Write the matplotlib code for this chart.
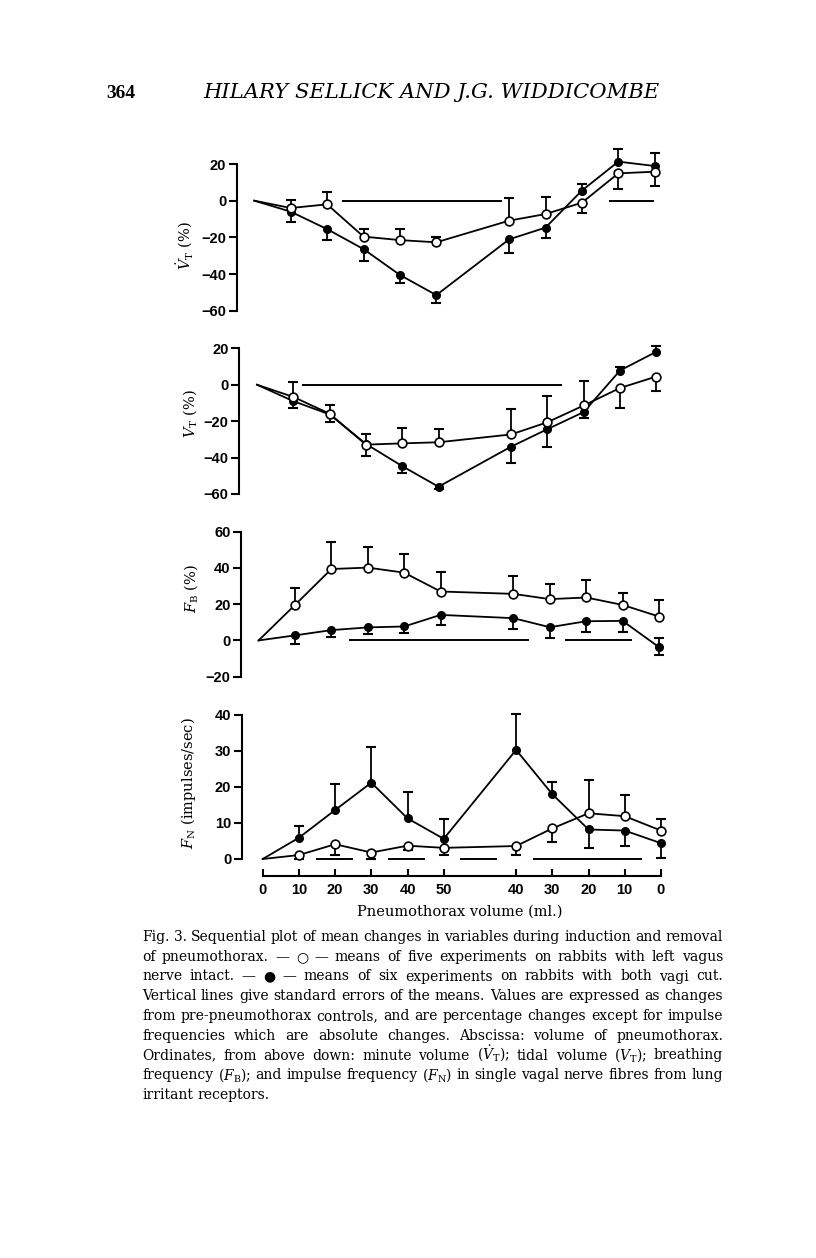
import matplotlib
matplotlib.use("Agg")
import numpy as np
import matplotlib.pyplot as plt

plt.rcParams["mathtext.fontset"] = "dejavuserif"

# x positions: 0..50 ml going in, a gap, then 40..0 ml coming out
pos = [0, 1, 2, 3, 4, 5, 7, 8, 9, 10, 11]
tick_labels = ["0", "10", "20", "30", "40", "50", "40", "30", "20", "10", "0"]

# minute volume (%)
vdot_open = [0, -4, -2, -19.6, -21.5, -22.7, -10.9, -7.3, -1.1, 14.9, 15.8]
vdot_open_up = [0, 4.4, 6.5, 4.1, 6.0, 2.7, 12.2, 9.1, 0, 0, 0]
vdot_open_dn = [0, 0, 0, 0, 0, 0, 0, 0, 5.4, 8.5, 7.6]
vdot_fill = [0, -6, -15.5, -26.4, -40.5, -51.5, -21.1, -14.7, 5.5, 21.3, 18.9]
vdot_fill_up = [0, 0, 0, 0, 0, 0, 0, 0, 3.5, 6.9, 6.9]
vdot_fill_dn = [0, 5.5, 6.0, 6.6, 4.5, 4.1, 7.6, 5.8, 0, 0, 0]
vdot_sig = [(2.40, 6.80), (9.74, 10.97)]

# tidal volume (%)
vt_open = [0, -6.7, -15.9, -32.9, -32.2, -31.6, -27.3, -20.6, -11.4, -1.8, 4.5]
vt_open_up = [0, 8.0, 4.7, 5.9, 8.3, 7.2, 13.7, 14.3, 13.2, 0, 0]
vt_open_dn = [0, 0, 0, 0, 0, 0, 0, 0, 0, 11.2, 7.8]
vt_fill = [0, -9, -16.3, -32.5, -44.7, -56, -34, -24.4, -15, 7.8, 18.1]
vt_fill_up = [0, 0, 0, 0, 0, 0, 0, 0, 0, 2.2, 3.2]
vt_fill_dn = [0, 4.0, 4.0, 6.9, 3.8, 1.5, 9.0, 9.6, 3.4, 0, 0]
vt_sig = [(1.23, 8.40)]

# breathing frequency (%)
fb_open = [0, 19.6, 39.4, 40.2, 37.4, 27, 25.7, 22.8, 23.7, 19.6, 13.2]
fb_open_up = [0, 9.6, 15.1, 11.5, 10.5, 11.0, 9.9, 8.4, 9.7, 6.8, 9.2]
fb_open_dn = [0] * 11
fb_fill = [0, 2.8, 5.7, 7.2, 7.7, 14.1, 12.3, 7.3, 10.6, 10.8, -3.7]
fb_fill_up = [0, 0, 0, 0, 0, 0, 0, 0, 0, 0, 5.0]
fb_fill_dn = [0, 4.6, 4.0, 3.5, 3.7, 5.5, 6.1, 6.0, 6.2, 6.2, 4.2]
fb_sig = [(2.49, 7.43), (8.42, 10.25)]

# impulse frequency (impulses/sec)
fn_open = [0, 1.1, 4.1, 1.8, 3.7, 3.1, 3.6, 8.5, 12.7, 11.9, 7.9]
fn_open_up = [0, 0, 0, 0, 0, 0, 0, 0, 9.2, 5.9, 3.1]
fn_open_dn = [0, 1.1, 3.0, 1.8, 1.2, 2.0, 2.5, 3.9, 0, 0, 0]
fn_fill = [0, 5.9, 13.6, 21.2, 11.3, 5.6, 30.3, 18, 8.2, 7.9, 4.4]
fn_fill_up = [0, 3.3, 7.2, 9.8, 7.2, 5.4, 10.0, 3.4, 0, 0, 0]
fn_fill_dn = [0, 0, 0, 0, 0, 0, 0, 0, 5.1, 4.2, 4.0]
fn_sig = [(1.47, 2.50), (3.47, 4.48), (5.45, 6.46), (7.46, 10.49)]

W, H = 816, 1258
fig = plt.figure(figsize=(W / 100, H / 100), dpi=100)
fig.patch.set_facecolor("white")

def fx(px):
    return px / W

def fy(py):
    return 1 - py / H

# layout in page pixels: spine x, x of first point, px per step,
# (value, px) for top and bottom of y spine, ylim
panels = [
    dict(spine=236.7, x0=254.3, dx=36.4, top=(20, 164), bot=(-60, 310.7), ylim=(-63, 30),
         ticks=[20, 0, -20, -40, -60], label=r"$\dot{V}_{\mathrm{T}}$ (%)", lab=(185, 246),
         data=(vdot_open, vdot_open_up, vdot_open_dn, vdot_fill, vdot_fill_up, vdot_fill_dn, vdot_sig)),
    dict(spine=239.0, x0=257.0, dx=36.3, top=(20, 348.3), bot=(-60, 494), ylim=(-62, 26),
         ticks=[20, 0, -20, -40, -60], label=r"$V_{\mathrm{T}}$ (%)", lab=(190, 414),
         data=(vt_open, vt_open_up, vt_open_dn, vt_fill, vt_fill_up, vt_fill_dn, vt_sig)),
    dict(spine=241.0, x0=258.6, dx=36.4, top=(60, 531.7), bot=(-20, 676.7), ylim=(-22, 62),
         ticks=[60, 40, 20, 0, -20], label=r"$F_{\mathrm{B}}$ (%)", lab=(191, 588),
         data=(fb_open, fb_open_up, fb_open_dn, fb_fill, fb_fill_up, fb_fill_dn, fb_sig)),
    dict(spine=241.7, x0=262.7, dx=36.2, top=(40, 715), bot=(0, 859), ylim=(-4.64, 42),
         ticks=[40, 30, 20, 10, 0], label=r"$F_{\mathrm{N}}$ (impulses/sec)", lab=(189, 783),
         data=(fn_open, fn_open_up, fn_open_dn, fn_fill, fn_fill_up, fn_fill_dn, fn_sig)),
]

tick_font = dict(family="Liberation Sans", weight="bold", size=10.5)

for i, p in enumerate(panels):
    (tv, tp), (bv, bp) = p["top"], p["bot"]
    sy = (bp - tp) / (tv - bv)
    y_top = tp - (p["ylim"][1] - tv) * sy
    y_bot = bp + (bv - p["ylim"][0]) * sy
    xl = -(p["x0"] - p["spine"]) / p["dx"]
    xr = 11.6
    ax = fig.add_axes([fx(p["spine"]), fy(y_bot), (xr - xl) * p["dx"] / W, (y_bot - y_top) / H])
    ax.set_xlim(xl, xr)
    ax.set_ylim(*p["ylim"])
    ax.patch.set_alpha(0)
    for s in ["top", "right"]:
        ax.spines[s].set_visible(False)
    ax.spines["left"].set_bounds(bv, tv)
    ax.spines["left"].set_linewidth(1.5)
    ax.set_yticks(p["ticks"])
    ax.set_yticklabels([str(t).replace("-", "\u2212") for t in p["ticks"]], **tick_font)
    ax.tick_params(axis="y", direction="out", length=6, width=1.5, pad=1.5)

    if i < 3:
        ax.spines["bottom"].set_visible(False)
        ax.set_xticks([])
    else:
        ax.spines["bottom"].set_bounds(0, 11)
        ax.spines["bottom"].set_linewidth(1.5)
        ax.set_xticks(pos)
        ax.set_xticklabels(tick_labels, **tick_font)
        ax.tick_params(axis="x", direction="in", length=5, width=1.5, pad=5)

    o, o_up, o_dn, f, f_up, f_dn, sig = p["data"]
    o, o_up, o_dn = np.array(o), np.array(o_up), np.array(o_dn)
    f, f_up, f_dn = np.array(f), np.array(f_up), np.array(f_dn)
    x = np.array(pos)

    # significance bars
    for a, b in sig:
        ax.plot([a, b], [0, 0], color="black", lw=1.4, solid_capstyle="butt", zorder=1)

    # standard error bars (one sided, cap at the tip only)
    for m, up, dn in [(o, o_up, o_dn), (f, f_up, f_dn)]:
        for e in [up, -dn]:
            k = e != 0
            ax.vlines(x[k], m[k], m[k] + e[k], color="black", lw=1.3, zorder=1.5)
            ax.plot(x[k], m[k] + e[k], ls="none", marker="_", ms=7, mew=1.5, color="black", zorder=1.5)

    ax.plot(x, o, color="black", lw=1.3, zorder=2)
    ax.plot(x, f, color="black", lw=1.3, zorder=2)
    ax.plot(x[1:], f[1:], ls="none", marker="o", ms=5.5, mfc="black", mec="black", zorder=3)
    ax.plot(x[1:], o[1:], ls="none", marker="o", ms=6.3, mfc="white", mec="black", mew=1.2, zorder=4)

    fig.text(fx(p["lab"][0]), fy(p["lab"][1]), p["label"], rotation=90, ha="center", va="center",
             family="DejaVu Serif", size=10.5)

fig.text(fx(460), fy(912), "Pneumothorax volume (ml.)", ha="center", va="center",
         family="DejaVu Serif", size=10.5)

# running head
fig.canvas.draw()
r = fig.canvas.get_renderer()

def fit(t, width):
    w = t.get_window_extent(r).width
    t.set_fontsize(t.get_fontsize() * width / w)

t = fig.text(fx(106), fy(93), "364", ha="left", va="center", family="Liberation Serif", weight="bold", size=13)
fit(t, 29)
t = fig.text(fx(203), fy(93), "HILARY SELLICK AND J.G. WIDDICOMBE", ha="left", va="center",
             family="DejaVu Serif", style="italic", size=13)
fit(t, 454)

# caption, justified between two page margins
caption = [
    "Fig. 3. Sequential plot of mean changes in variables during induction and removal",
    "of pneumothorax. \u2014 \u25cb \u2014 means of five experiments on rabbits with left vagus",
    "nerve intact. \u2014 \u25cf \u2014 means of six experiments on rabbits with both vagi cut.",
    "Vertical lines give standard errors of the means. Values are expressed as changes",
    "from pre-pneumothorax controls, and are percentage changes except for impulse",
    "frequencies which are absolute changes. Abscissa: volume of pneumothorax.",
    r"Ordinates, from above down: minute volume ($\dot{V}_{\mathrm{T}}$); tidal volume ($V_{\mathrm{T}}$); breathing",
    r"frequency ($F_{\mathrm{B}}$); and impulse frequency ($F_{\mathrm{N}}$) in single vagal nerve fibres from lung",
    "irritant receptors.",
]
X0, X1 = 142, 723
cap_font = dict(family=["DejaVu Serif", "DejaVu Sans"], size=9)

# type size chosen so the first line fills the measure with plain word spaces
words0 = caption[0].split(" ")
probe = [fig.text(0, 0, w, **cap_font) for w in words0]
S = sum(a.get_window_extent(r).width for a in probe)
for a in probe:
    a.remove()
sp9 = 9 * 100 / 72 * 0.33
fs = 9 * (X1 - X0) / (S + sp9 * (len(words0) - 1))
cap_font["size"] = fs
space = fs * 100 / 72 * 0.33

for j, line in enumerate(caption):
    yb = 937 + j * 19.75 + 4
    words = line.split(" ")
    arts = [fig.text(0, fy(yb), w, ha="left", va="baseline", **cap_font) for w in words]
    ws = [a.get_window_extent(r).width for a in arts]
    if j < len(caption) - 1:
        gap = (X1 - X0 - sum(ws)) / (len(words) - 1)
        if gap < 0.6 * space:
            s = (X1 - X0 - 0.6 * space * (len(words) - 1)) / sum(ws)
            for a in arts:
                a.set_fontsize(fs * s)
            ws = [a.get_window_extent(r).width for a in arts]
            gap = (X1 - X0 - sum(ws)) / (len(words) - 1)
    else:
        gap = space
    xx = X0
    for a, w in zip(arts, ws):
        a.set_x(fx(xx))
        xx += w + gap

fig.savefig("out.png", dpi=100, facecolor="white")
